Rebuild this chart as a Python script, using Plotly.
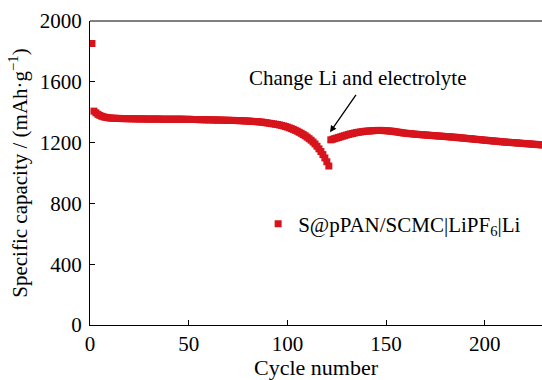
import plotly.graph_objects as go

# ---- data ----
cycles_before = list(range(1, 122))
capacity_before = [
    1852, 1407, 1396, 1386, 1379, 1373, 1369, 1366, 1364, 1362,
    1361, 1360, 1360, 1359, 1359, 1358, 1358, 1358, 1357, 1357,
    1357, 1357, 1356, 1356, 1356, 1356, 1356, 1355, 1355, 1355,
    1355, 1355, 1355, 1355, 1355, 1354, 1354, 1354, 1354, 1354,
    1354, 1354, 1354, 1354, 1354, 1354, 1354, 1353, 1353, 1353,
    1353, 1352, 1352, 1352, 1351, 1351, 1351, 1350, 1350, 1350,
    1350, 1349, 1349, 1349, 1348, 1348, 1348, 1347, 1347, 1347,
    1346, 1346, 1346, 1345, 1345, 1344, 1344, 1343, 1342, 1342,
    1341, 1340, 1339, 1338, 1337, 1336, 1335, 1333, 1331, 1329,
    1327, 1325, 1323, 1321, 1319, 1316, 1313, 1310, 1306, 1302,
    1297, 1292, 1287, 1281, 1275, 1268, 1261, 1253, 1245, 1236,
    1226, 1216, 1204, 1191, 1176, 1159, 1141, 1121, 1099, 1074, 1046,
]
cycles_after = list(range(122, 230))
capacity_after = [
    1218, 1222, 1226, 1230, 1234, 1238, 1242, 1246, 1250,
    1254, 1257, 1260, 1263, 1266, 1268, 1270, 1272, 1274, 1275,
    1276, 1277, 1278, 1279, 1280, 1280, 1280, 1280, 1279, 1278,
    1277, 1276, 1275, 1273, 1271, 1269, 1267, 1265, 1263, 1262,
    1260, 1259, 1258, 1256, 1255, 1254, 1253, 1252, 1251, 1250,
    1249, 1248, 1247, 1246, 1245, 1244, 1243, 1242, 1241, 1240,
    1239, 1238, 1237, 1236, 1235, 1234, 1232, 1231, 1230, 1229,
    1227, 1226, 1225, 1224, 1222, 1221, 1220, 1219, 1217, 1216,
    1215, 1214, 1212, 1211, 1210, 1209, 1208, 1206, 1205, 1204,
    1203, 1202, 1201, 1200, 1199, 1198, 1197, 1196, 1195, 1194,
    1193, 1192, 1191, 1190, 1189, 1188, 1187, 1186, 1184,
]
x_ticks = [0, 50, 100, 150, 200, 250]
y_ticks = [0, 400, 800, 1200, 1600, 2000]

series_name = "S@pPAN/SCMC|LiPF<sub>6</sub>|Li"
annotation_text = "Change Li and electrolyte"

RED = "#d7141c"
FONT = "Liberation Serif"

fig = go.Figure()
fig.add_trace(go.Scatter(
    x=cycles_before + cycles_after,
    y=capacity_before + capacity_after,
    mode="markers",
    marker=dict(symbol="square", size=7, color=RED, line=dict(width=0)),
    name=series_name,
    showlegend=True,
))

fig.update_layout(
    width=542, height=380,
    margin=dict(l=90, r=0, t=21, b=55),
    paper_bgcolor="white", plot_bgcolor="white",
    font=dict(family=FONT, size=21, color="black"),
    showlegend=True,
    legend=dict(x=0.372, y=0.332, xanchor="left", yanchor="middle",
                bgcolor="rgba(0,0,0,0)", font=dict(size=21, family=FONT),
                borderwidth=0),
)
fig.update_xaxes(
    range=[0, 229], tickvals=x_ticks, ticks="inside", ticklen=5, tickcolor="black",
    showline=True, linecolor="black", linewidth=1, showgrid=False, zeroline=False,
    title=dict(text="Cycle number", font=dict(size=22, family=FONT), standoff=2),
    tickfont=dict(size=21, family=FONT),
)
fig.update_yaxes(
    range=[0, 2000], tickvals=y_ticks, ticks="inside", ticklen=5, tickcolor="black",
    showline=True, linecolor="black", linewidth=1, showgrid=False, zeroline=False,
    title=dict(text="Specific capacity / (mAh·g<sup>−1</sup>)",
               font=dict(size=21, family=FONT), standoff=6),
    tickfont=dict(size=21, family=FONT),
    ticklabelstandoff=3,
)
# top frame line
fig.add_shape(type="line", xref="paper", yref="paper", x0=0, x1=1, y0=1, y1=1,
              line=dict(color="black", width=1))
# arrow
fig.add_annotation(x=121.6, y=1268, xref="x", yref="y", text="", showarrow=True,
                   ax=27, ay=-39, arrowhead=2, arrowsize=1, arrowwidth=1.3,
                   arrowcolor="black", standoff=0)
fig.add_annotation(x=0.593, y=0.8125, xref="paper", yref="paper", text=annotation_text,
                   showarrow=False, font=dict(size=21, family=FONT, color="black"),
                   xanchor="center", yanchor="middle")

fig.write_html("out.html")
